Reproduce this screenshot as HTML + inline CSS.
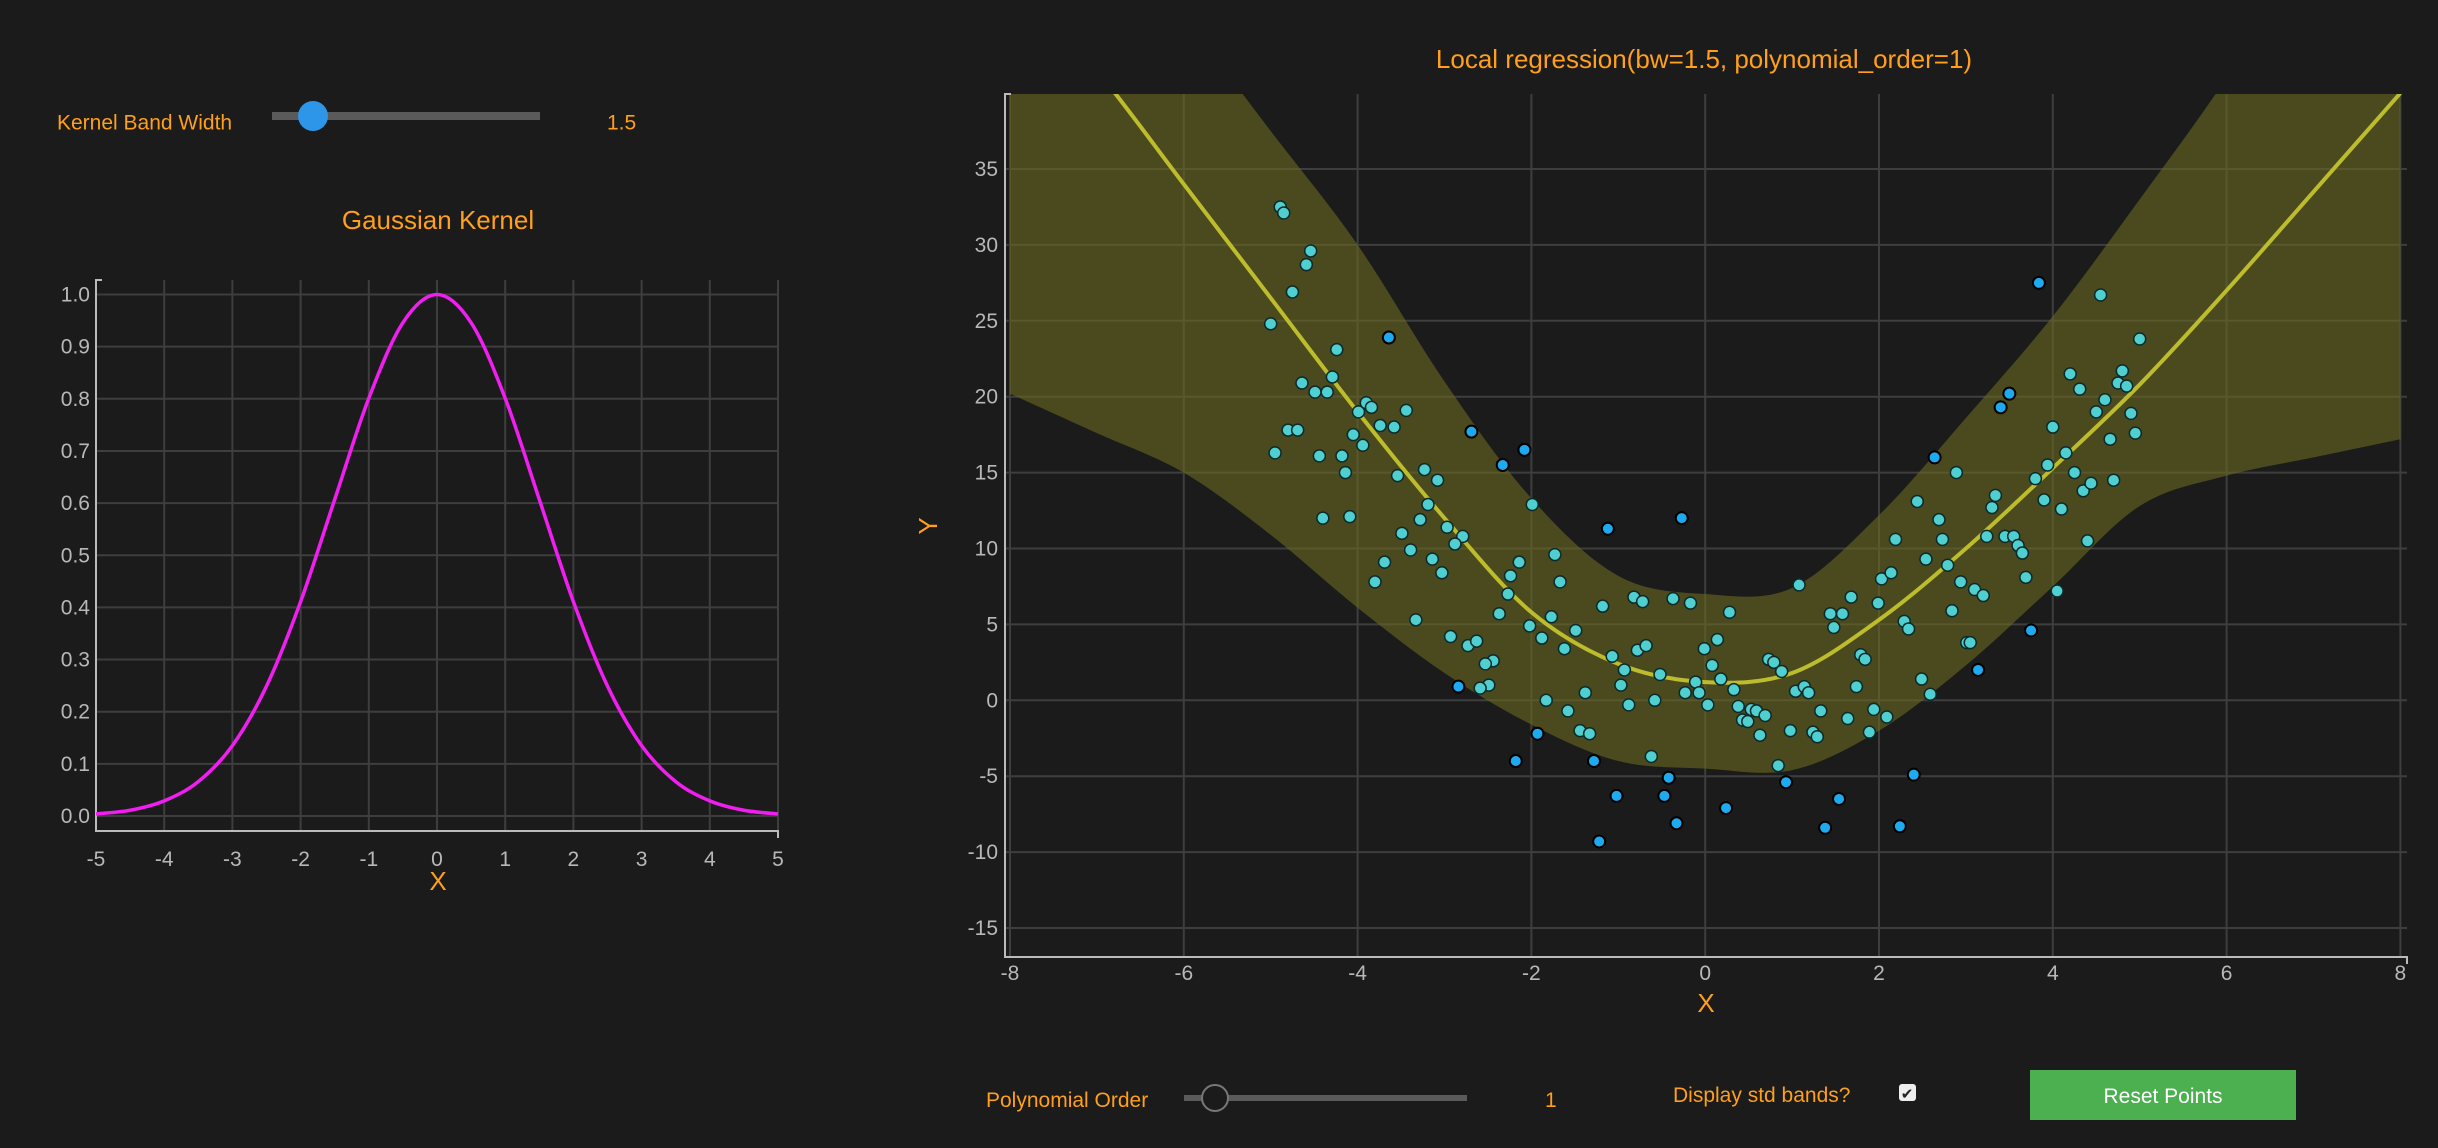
<!DOCTYPE html>
<html><head><meta charset="utf-8"><style>
html,body{margin:0;padding:0;background:#1b1b1b;width:2438px;height:1148px;overflow:hidden;font-family:"Liberation Sans",sans-serif}
svg{position:absolute;left:0;top:0}
.lbl{fill:#ff9f1c}
.tick{fill:#b8b8b8;font-size:21px}
</style></head><body>
<svg id="svg" width="2438" height="1148">
<rect width="2438" height="1148" fill="#1b1b1b"/>
<text x="57" y="124" class="lbl" font-size="21" dominant-baseline="middle">Kernel Band Width</text>
<rect x="272" y="112" width="268" height="8" fill="#5a5a5a"/>
<circle cx="313" cy="116" r="15" fill="#2d96e8"/>
<text x="607" y="124" class="lbl" font-size="21" dominant-baseline="middle">1.5</text>
<text x="438" y="229" class="lbl" font-size="26" text-anchor="middle">Gaussian Kernel</text>
<g id="kernel"></g>
<text x="1704" y="68" class="lbl" font-size="26" text-anchor="middle">Local regression(bw=1.5, polynomial_order=1)</text>
<g id="reg"></g>
<text x="986" y="1107" class="lbl" font-size="21">Polynomial Order</text>
<rect x="1184" y="1095" width="283" height="6" fill="#5a5a5a"/>
<circle cx="1215" cy="1098" r="13" fill="#1b1b1b" stroke="#777" stroke-width="2"/>
<text x="1545" y="1107" class="lbl" font-size="21">1</text>
<text x="1673" y="1102" class="lbl" font-size="21">Display std bands?</text>
<rect x="1899" y="1084" width="17" height="17" rx="3" fill="#eee"/>
<text x="1907" y="1099" font-size="15" text-anchor="middle" fill="#222">✔</text>
<rect x="2030" y="1070" width="266" height="50" fill="#4caf50"/>
<text x="2163" y="1103" font-size="21" fill="#fff" text-anchor="middle">Reset Points</text>
</svg>
<script>
const NS="http://www.w3.org/2000/svg";
// kernel data
const kX=[-5,-4.5,-4,-3.5,-3,-2.5,-2,-1.5,-1,-0.5,0,0.5,1,1.5,2,2.5,3,3.5,4,4.5,5];
const kY=[0.004,0.011,0.029,0.066,0.135,0.249,0.411,0.607,0.801,0.946,1.0,0.946,0.801,0.607,0.411,0.249,0.135,0.066,0.029,0.011,0.004];
const kXTicks=[-5,-4,-3,-2,-1,0,1,2,3,4,5];
const kYTicks=["0.0","0.1","0.2","0.3","0.4","0.5","0.6","0.7","0.8","0.9","1.0"];
// regression data
const fitX=[-8,-7,-6,-5,-4,-3,-2,-1,0,1,2,3,4,5,6,7,8];
const fitY=[48,41.5,34,26.5,19,12,5.8,2.4,1.2,1.8,5.3,10,15.3,20.8,27,33.5,40];
const upperY=[60,52,45,37.5,30,21,13.3,8.2,7.0,7.4,12.2,18.6,25.3,33,41,50,58];
const lowerY=[20.2,17.6,15,10.9,6.1,1.8,-1.6,-4,-4.5,-4.6,-2,2.3,7.5,12.8,14.8,16,17.2];
const ptX=[-4.89,-4.85,-4.75,-4.59,-4.54,-5.0,-4.24,-4.29,-4.64,-4.49,-4.35,-4.80,-4.69,-4.95,-4.44,-4.18,-4.14,-4.40,-4.09,-4.05,-3.94,-3.99,-3.90,-3.84,-3.74,-3.58,-3.44,-3.54,-3.23,-3.08,-3.19,-3.28,-3.49,-2.97,-2.79,-2.88,-3.39,-3.14,-3.69,-3.03,-3.80,-3.33,-2.93,-2.73,-2.63,-2.44,-2.53,-2.49,-2.59,-2.37,-2.27,-2.24,-2.14,-1.99,-2.02,-1.88,-1.77,-1.73,-1.67,-1.62,-1.49,-1.83,-1.58,-1.38,-1.44,-1.33,-1.18,-1.07,-0.97,-0.93,-0.88,-0.82,-0.72,-0.78,-0.68,-0.62,-0.58,-0.52,-0.37,-0.17,-0.23,-0.11,-0.07,-0.01,0.03,0.08,0.14,0.18,0.28,0.33,0.38,0.43,0.49,0.53,0.59,0.63,0.69,0.73,0.79,0.88,0.84,0.98,1.04,1.08,1.14,1.19,1.24,1.29,1.33,1.44,1.48,1.58,1.64,1.68,1.74,1.79,1.84,1.89,1.94,1.99,2.03,2.09,2.14,2.19,2.29,2.34,2.44,2.49,2.54,2.59,2.69,2.73,2.79,2.84,2.89,2.94,3.01,3.05,3.10,3.20,3.24,3.30,3.34,3.45,3.55,3.60,3.65,3.69,3.80,3.90,3.94,4.0,4.05,4.10,4.15,4.20,4.25,4.31,4.35,4.40,4.44,4.50,4.55,4.60,4.66,4.70,4.75,4.80,4.85,4.90,4.95,5.0];
const ptY=[32.5,32.1,26.9,28.7,29.6,24.8,23.1,21.3,20.9,20.3,20.3,17.8,17.8,16.3,16.1,16.1,15.0,12.0,12.1,17.5,16.8,19.0,19.6,19.3,18.1,18.0,19.1,14.8,15.2,14.5,12.9,11.9,11.0,11.4,10.8,10.3,9.9,9.3,9.1,8.4,7.8,5.3,4.2,3.6,3.9,2.6,2.4,1.0,0.8,5.7,7.0,8.2,9.1,12.9,4.9,4.1,5.5,9.6,7.8,3.4,4.6,0.0,-0.7,0.5,-2.0,-2.2,6.2,2.9,1.0,2.0,-0.3,6.8,6.5,3.3,3.6,-3.7,0.0,1.7,6.7,6.4,0.5,1.2,0.5,3.4,-0.3,2.3,4.0,1.4,5.8,0.7,-0.4,-1.3,-1.4,-0.6,-0.7,-2.3,-1.0,2.7,2.5,1.9,-4.3,-2.0,0.6,7.6,0.9,0.5,-2.1,-2.4,-0.7,5.7,4.8,5.7,-1.2,6.8,0.9,3.0,2.7,-2.1,-0.6,6.4,8.0,-1.1,8.4,10.6,5.2,4.7,13.1,1.4,9.3,0.4,11.9,10.6,8.9,5.9,15.0,7.8,3.8,3.8,7.3,6.9,10.8,12.7,13.5,10.8,10.8,10.2,9.7,8.1,14.6,13.2,15.5,18.0,7.2,12.6,16.3,21.5,15.0,20.5,13.8,10.5,14.3,19.0,26.7,19.8,17.2,14.5,20.9,21.7,20.7,18.9,17.6,23.8];
const outX=[-3.64,-2.69,-2.33,-2.08,-1.12,-0.27,-2.18,-1.28,-1.22,-1.02,-0.47,-0.42,-0.33,0.24,0.93,1.38,1.54,2.24,2.40,2.64,3.75,3.84,3.40,3.50,3.14,-2.84,-1.93];
const outY=[23.9,17.7,15.5,16.5,11.3,12.0,-4.0,-4.0,-9.3,-6.3,-6.3,-5.1,-8.1,-7.1,-5.4,-8.4,-6.5,-8.3,-4.9,16.0,4.6,27.5,19.3,20.2,2.0,0.9,-2.2];
const rXTicks=[-8,-6,-4,-2,0,2,4,6,8];
const rYTicks=[-15,-10,-5,0,5,10,15,20,25,30,35];

function el(tag,attrs,parent){const e=document.createElementNS(NS,tag);for(const k in attrs)e.setAttribute(k,attrs[k]);parent.appendChild(e);return e;}
function smooth(pts){let d="M"+pts[0][0]+","+pts[0][1];for(let i=0;i<pts.length-1;i++){const p0=pts[Math.max(0,i-1)],p1=pts[i],p2=pts[i+1],p3=pts[Math.min(pts.length-1,i+2)];
const c1=[p1[0]+(p2[0]-p0[0])/6,p1[1]+(p2[1]-p0[1])/6],c2=[p2[0]-(p3[0]-p1[0])/6,p2[1]-(p3[1]-p1[1])/6];d+="C"+c1+" "+c2+" "+p2;}return d;}

// Kernel chart
(function(){
const g=document.getElementById('kernel');
const sx=v=>96+(v+5)*68.2, sy=v=>816-v*521.5;
kXTicks.forEach(t=>{const l=el('line',{x1:sx(t),x2:sx(t),y1:280,y2:831,stroke:'#3e3e3e','stroke-width':2},g);

const tx=el('text',{x:sx(t),y:866,'text-anchor':'middle',class:'tick'},g);tx.textContent=t;
});
kYTicks.forEach(t=>{const v=parseFloat(t);const l=el('line',{x1:96,x2:778,y1:sy(v),y2:sy(v),stroke:'#3e3e3e','stroke-width':2},g);

const tx=el('text',{x:90,y:sy(v)+7,'text-anchor':'end',class:'tick'},g);tx.textContent=t;
});
const ax=el('path',{d:'M102,280H96V831H778V838',fill:'none',stroke:'#bbb','stroke-width':2},g);

const c=el('path',{d:smooth(kX.map((x,i)=>[sx(x),sy(kY[i])])),fill:'none',stroke:'#f01ef0','stroke-width':3.5},g);

const xl=el('text',{x:438,y:890,'text-anchor':'middle',class:'lbl','font-size':26},g);xl.textContent='X';

})();

// Regression chart
(function(){
const g=document.getElementById('reg');
const sx=v=>1010+(v+8)*86.9, sy=v=>700.3-v*15.18;
const L=1005,R=2407,T=94,B=957;
const cp=el('clipPath',{id:'clipR'},g);el('rect',{x:L,y:T,width:R-L,height:B-T},cp);
rXTicks.forEach(t=>{const l=el('line',{x1:sx(t),x2:sx(t),y1:T,y2:B,stroke:'#3e3e3e','stroke-width':2},g);

const tx=el('text',{x:sx(t),y:980,'text-anchor':'middle',class:'tick'},g);tx.textContent=t;
});
rYTicks.forEach(t=>{const l=el('line',{x1:L,x2:R,y1:sy(t),y2:sy(t),stroke:'#3e3e3e','stroke-width':2},g);

const tx=el('text',{x:998,y:sy(t)+7,'text-anchor':'end',class:'tick'},g);tx.textContent=t;
});
const cg=el('g',{'clip-path':'url(#clipR)'},g);
const up=fitX.map((x,i)=>[sx(x),sy(upperY[i])]), lo=fitX.map((x,i)=>[sx(x),sy(lowerY[i])]).reverse();
const band=el('path',{d:smooth(up)+"L"+smooth(lo).slice(1)+"Z",fill:'#6b6a22','fill-opacity':0.6},cg);

const fit=el('path',{d:smooth(fitX.map((x,i)=>[sx(x),sy(fitY[i])])),fill:'none',stroke:'#bcbc2c','stroke-width':4},cg);

ptX.forEach((x,i)=>{const c=el('circle',{cx:sx(x),cy:sy(ptY[i]),r:6,fill:'#4fcfcf',stroke:'#0d2a2a','stroke-width':1.5},cg);
});
outX.forEach((x,i)=>{const c=el('circle',{cx:sx(x),cy:sy(outY[i]),r:6,fill:'#1eaaf0',stroke:'#000','stroke-width':2},cg);
});
const ax=el('path',{d:'M1011,94H1005V957H2407V964',fill:'none',stroke:'#bbb','stroke-width':2},g);

const xl=el('text',{x:1706,y:1012,'text-anchor':'middle',class:'lbl','font-size':26},g);xl.textContent='X';

const yl=el('text',{x:937,y:526,'text-anchor':'middle',class:'lbl','font-size':26,transform:'rotate(-90 937 526)'},g);yl.textContent='Y';

})();
</script>
</body></html>
